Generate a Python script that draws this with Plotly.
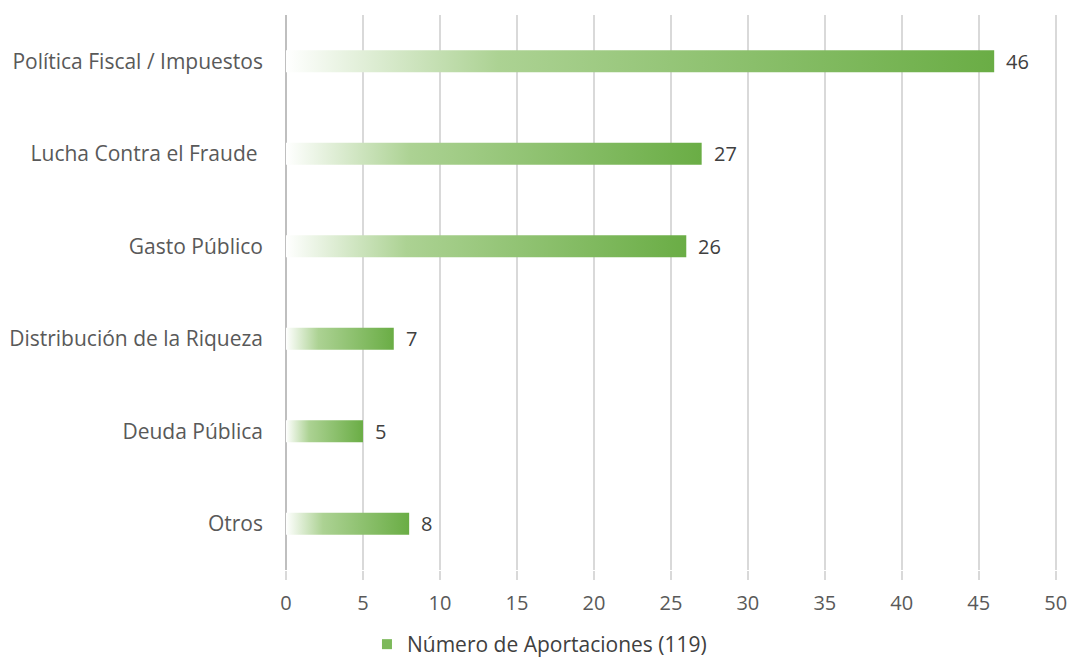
import plotly.graph_objects as go

categories = ["Política Fiscal / Impuestos", "Lucha Contra el Fraude\u00a0", "Gasto Público",
              "Distribución de la Riqueza", "Deuda Pública", "Otros"]
values = [46, 27, 26, 7, 5, 8]
x_ticks = [0, 5, 10, 15, 20, 25, 30, 35, 40, 45, 50]
series_name = "Número de Aportaciones (119)"

grad = [[0, "rgba(255,255,255,1)"], [0.3, "#acd293"], [1, "#6aad45"]]
half = 0.12
font = "'Open Sans', sans-serif"

fig = go.Figure()

# each bar is a filled shape so it can carry a left-to-right gradient
for i, v in enumerate(values):
    fig.add_trace(go.Scatter(
        x=[0, v, v, 0, 0],
        y=[i - half, i - half, i + half, i + half, i - half],
        mode="lines", line=dict(width=0),
        fill="toself",
        fillgradient=dict(type="horizontal", colorscale=grad),
        showlegend=False, hoverinfo="skip",
    ))
    fig.add_annotation(x=v, y=i, text=str(v), showarrow=False,
                       xanchor="left", xshift=10,
                       font=dict(family=font, size=20, color="#404040"))

# legend entry only
fig.add_trace(go.Scatter(
    x=[None], y=[None], mode="markers", name=series_name,
    marker=dict(symbol="square", size=10, color="#7cb95a"),
))

fig.update_layout(
    width=1073, height=665,
    margin=dict(l=286, r=16, t=15, b=95, autoexpand=False),
    paper_bgcolor="white", plot_bgcolor="white",
    font=dict(family=font, size=20, color="#595959"),
    showlegend=True,
    legend=dict(orientation="h", xref="container", x=0.342, xanchor="left",
                yref="container", y=0.0, yanchor="bottom",
                font=dict(size=21, color="#404040"), itemwidth=30),
    xaxis=dict(range=[0, 50.08], tickvals=x_ticks, showgrid=True,
               gridcolor="#d9d9d9", gridwidth=2,
               zeroline=True, zerolinecolor="#bfbfbf", zerolinewidth=2,
               ticks="outside", ticklen=9, tickwidth=2, tickcolor="#d9d9d9",
               ticklabelstandoff=6, showline=False, automargin=False),
    yaxis=dict(range=[5.5, -0.5], tickvals=list(range(len(categories))),
               ticktext=categories, showgrid=False, zeroline=False,
               ticklabelstandoff=22, showline=False, automargin=False,
               tickfont=dict(size=21)),
)

fig.write_html("out.html", config={"displayModeBar": False},
               post_script="document.body.style.margin='0';")
